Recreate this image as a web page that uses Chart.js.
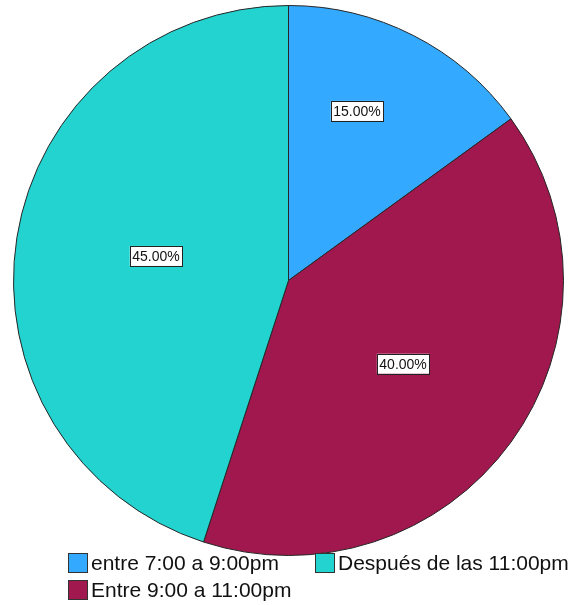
<!DOCTYPE html>
<html>
<head>
<meta charset="utf-8">
<script src="https://cdn.jsdelivr.net/npm/chart.js@4/dist/chart.umd.min.js"></script>
<style>
  html, body { margin: 0; padding: 0; background: #fff; }
  #wrap { position: relative; width: 575px; height: 605px; }
  #legend {
    position: absolute; left: 68px; top: 552px;
    display: grid; grid-template-columns: 247px auto; row-gap: 6px;
    font-family: 'Liberation Sans', Arial, sans-serif; font-size: 21px; color: #111;
  }
  .item { display: flex; align-items: center; height: 21px; white-space: nowrap; }
  .box { width: 18px; height: 18px; border: 1px solid #333; margin-right: 3px; }
</style>
</head>
<body>
<div id="wrap">
  <canvas id="pie" width="575" height="605"></canvas>
  <div id="legend"></div>
</div>
<script>
const categories = ['entre 7:00 a 9:00pm', 'Entre 9:00 a 11:00pm', 'Después de las 11:00pm'];
const percents = [15, 40, 45];
const sliceColors = ['#33aaff', '#a0184e', '#23d3cf'];

// legend order as in the picture
const legendOrder = [0, 2, 1];

const labelBoxes = {
    id: 'labelBoxes',
    afterDatasetsDraw(chart, args, opts) {
        const ctx = chart.ctx;
        const meta = chart.getDatasetMeta(0);
        ctx.save();
        ctx.font = '14px "Liberation Sans", Arial, sans-serif';
        ctx.textAlign = 'center';
        ctx.textBaseline = 'middle';
        meta.data.forEach((arc, i) => {
            const p = arc.getProps(['x', 'y', 'startAngle', 'endAngle', 'outerRadius']);
            const mid = (p.startAngle + p.endAngle) / 2 + opts.shift[i] * Math.PI / 180;
            const r = p.outerRadius * opts.frac[i];
            const x = p.x + Math.cos(mid) * r;
            const y = p.y + Math.sin(mid) * r;
            const txt = percents[i].toFixed(2) + '%';
            const w = ctx.measureText(txt).width + 5;
            const h = 20;
            ctx.fillStyle = '#fff';
            ctx.fillRect(x - w / 2, y - h / 2, w, h);
            ctx.strokeStyle = '#222';
            ctx.lineWidth = 1;
            ctx.strokeRect(Math.round(x - w / 2) + 0.5, Math.round(y - h / 2) + 0.5, Math.round(w), h);
            ctx.fillStyle = '#111';
            ctx.fillText(txt, x, y + 1);
        });
        ctx.restore();
    }
};

new Chart(document.getElementById('pie'), {
    type: 'pie',
    data: {
        labels: categories,
        datasets: [{
            data: percents,
            backgroundColor: sliceColors,
            borderColor: '#262626',
            borderWidth: 1
        }]
    },
    options: {
        responsive: false,
        animation: false,
        layout: { padding: { left: 13, right: 11, top: 5, bottom: 49 } },
        plugins: {
            legend: { display: false },
            tooltip: { enabled: false },
            labelBoxes: { frac: [0.665, 0.515, 0.49], shift: [-5, 0, 1.5] }
        }
    },
    plugins: [labelBoxes]
});

const legend = document.getElementById('legend');
legendOrder.forEach(i => {
    const item = document.createElement('div');
    item.className = 'item';
    const box = document.createElement('span');
    box.className = 'box';
    box.style.background = sliceColors[i];
    item.appendChild(box);
    item.appendChild(document.createTextNode(categories[i]));
    legend.appendChild(item);
});
</script>
</body>
</html>
